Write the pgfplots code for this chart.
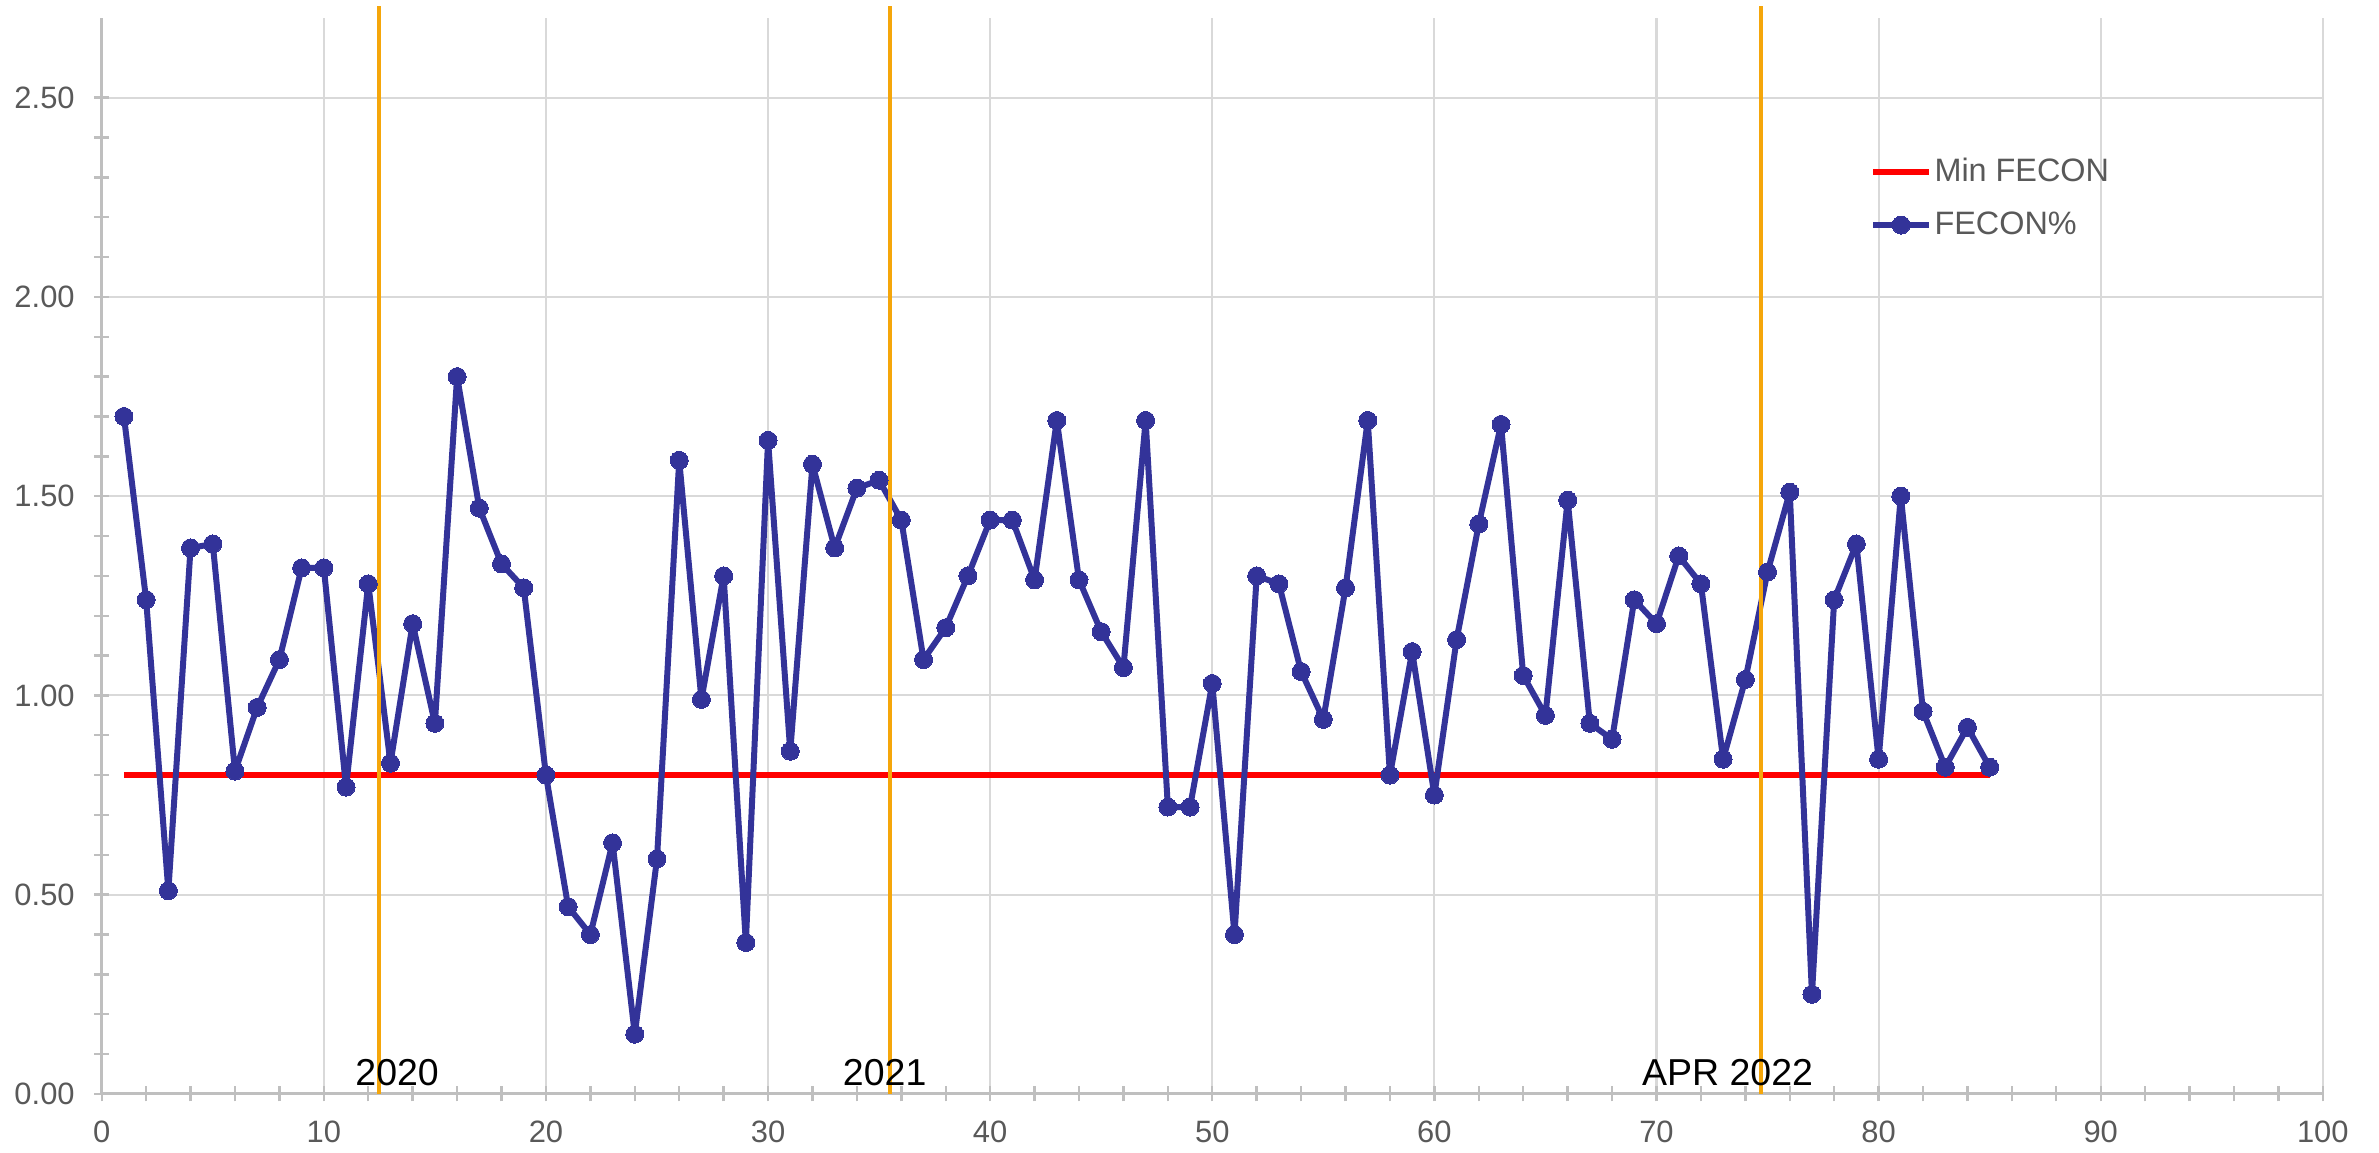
\documentclass[border=0pt]{standalone}
\usepackage{pgfplots}
\pgfplotsset{compat=1.18}
\usepackage{fontspec}
\setmainfont{Liberation Sans}
\definecolor{fecon}{RGB}{51,51,153}
\definecolor{minred}{RGB}{255,0,0}
\definecolor{yearline}{RGB}{245,166,10}
\definecolor{gridgray}{RGB}{217,217,217}
\definecolor{axisgray}{RGB}{191,191,191}
\definecolor{labelgray}{RGB}{89,89,89}

\begin{document}
\begin{tikzpicture}
\begin{axis}[
    scale only axis,
    width=740.4pt, height=358.7pt,
    xmin=0, xmax=100, ymin=0, ymax=2.7,
    xtick={0,10,...,100},
    ytick={0,0.5,1,1.5,2,2.5},
    minor x tick num=4,
    minor y tick num=4,
    axis x line=bottom, axis y line=left,
    axis line style={draw=axisgray, line width=1pt, -},
    tick align=center,
    major tick length=5pt, minor tick length=5pt,
    every tick/.style={axisgray, line width=0.8pt},
    grid=major,
    major grid style={gridgray, line width=0.7pt},
    ticklabel style={text=labelgray, font=\fontsize{10.3}{12}\selectfont},
    /pgf/number format/assume math mode=true,
    yticklabel style={/pgf/number format/fixed, /pgf/number format/fixed zerofill,
        /pgf/number format/precision=2, xshift=-3pt},
    xticklabel style={yshift=-3pt},
    legend style={draw=none, fill=none, at={(axis cs:79.6,2.365)}, anchor=north west,
        inner sep=0pt, row sep=4.5pt, font=\fontsize{10.8}{12}\selectfont,
        text=labelgray, nodes={inner xsep=0.8pt}},
    legend cell align=left,
    legend image code/.code={\draw[mark repeat=2, mark phase=2, #1]
        plot coordinates {(0pt,0pt) (9.3pt,0pt) (18.6pt,0pt)};},
    clip=false,
]
\addplot[minred, line width=2pt] coordinates {(1,0.8) (85,0.8)};
\addplot[fecon, line width=2pt, line join=round, mark=*, mark size=3pt,
    mark options={fill=fecon, draw=fecon, line width=0pt}] table {
x y
1 1.70
2 1.24
3 0.51
4 1.37
5 1.38
6 0.81
7 0.97
8 1.09
9 1.32
10 1.32
11 0.77
12 1.28
13 0.83
14 1.18
15 0.93
16 1.80
17 1.47
18 1.33
19 1.27
20 0.80
21 0.47
22 0.40
23 0.63
24 0.15
25 0.59
26 1.59
27 0.99
28 1.30
29 0.38
30 1.64
31 0.86
32 1.58
33 1.37
34 1.52
35 1.54
36 1.44
37 1.09
38 1.17
39 1.30
40 1.44
41 1.44
42 1.29
43 1.69
44 1.29
45 1.16
46 1.07
47 1.69
48 0.72
49 0.72
50 1.03
51 0.40
52 1.30
53 1.28
54 1.06
55 0.94
56 1.27
57 1.69
58 0.80
59 1.11
60 0.75
61 1.14
62 1.43
63 1.68
64 1.05
65 0.95
66 1.49
67 0.93
68 0.89
69 1.24
70 1.18
71 1.35
72 1.28
73 0.84
74 1.04
75 1.31
76 1.51
77 0.25
78 1.24
79 1.38
80 0.84
81 1.50
82 0.96
83 0.82
84 0.92
85 0.82
};
\legend{Min FECON, FECON\%}
% year markers
\addplot[yearline, line width=1.3pt, forget plot] coordinates {(12.5,0) (12.5,2.73)};
\addplot[yearline, line width=1.3pt, forget plot] coordinates {(35.5,0) (35.5,2.73)};
\addplot[yearline, line width=1.3pt, forget plot] coordinates {(74.7,0) (74.7,2.73)};
\node[anchor=base, font=\fontsize{12.5}{14}\selectfont] at (axis cs:13.3,0.02) {2020};
\node[anchor=base, font=\fontsize{12.5}{14}\selectfont] at (axis cs:35.25,0.02) {2021};
\node[anchor=base, font=\fontsize{12.5}{14}\selectfont] at (axis cs:73.2,0.02) {APR 2022};
\path (axis cs:-4.58,-0.148) rectangle (axis cs:102.53,2.745);
\end{axis}
\end{tikzpicture}
\end{document}
